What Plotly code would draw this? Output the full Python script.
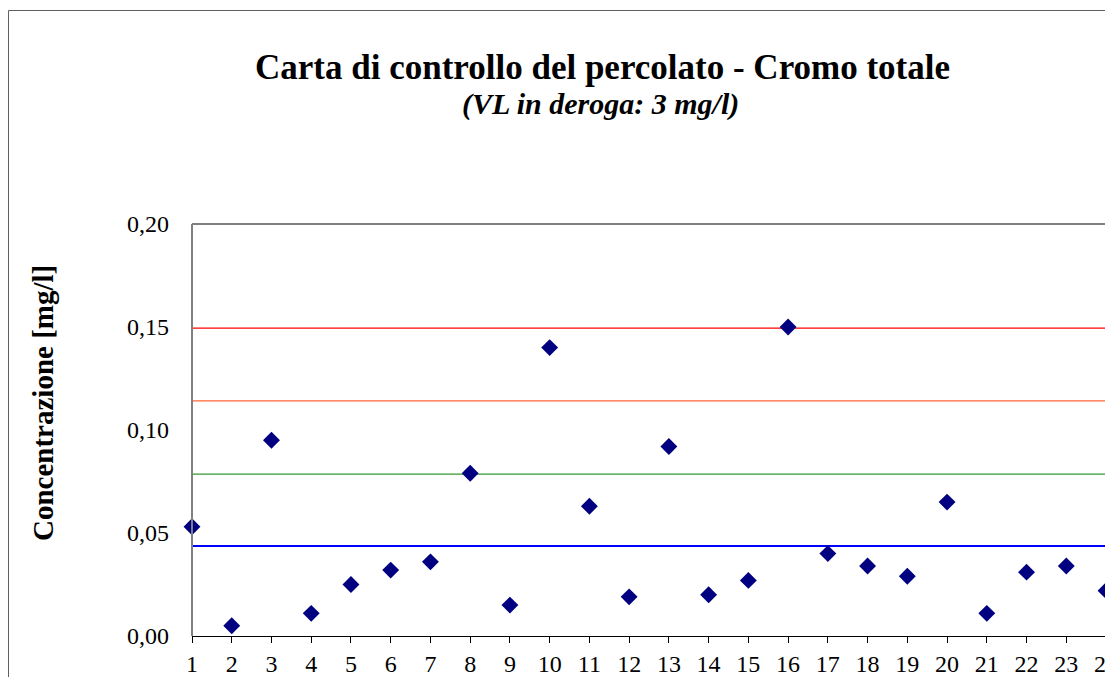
import plotly.graph_objects as go

# campioni e concentrazioni di cromo totale [mg/l]
campioni = list(range(1, 25))
cromo = [0.053, 0.005, 0.095, 0.011, 0.025, 0.032, 0.036, 0.079, 0.015, 0.140,
         0.063, 0.019, 0.092, 0.020, 0.027, 0.150, 0.040, 0.034, 0.029, 0.065,
         0.011, 0.031, 0.034, 0.022]

# linee di controllo
media = 0.0437
lim_1s = 0.0786
lim_2s = 0.1141
lim_3s = 0.1495

# area del tracciato in pixel della figura
L, T, B = 184, 216, 628
W = 1113 - L
H = B - T


def px(x):
    return (x - L) / W


def py(y):
    return (B - y) / H


fig = go.Figure()

for val, col, w in [(lim_3s, "#FF0000", 1.2), (lim_2s, "#FF6633", 1.2),
                    (lim_1s, "#339933", 1.2), (media, "#0000FF", 2)]:
    fig.add_trace(go.Scatter(x=[1, 26], y=[val, val], mode="lines",
                             line=dict(color=col, width=w), hoverinfo="skip"))

fig.add_trace(go.Scatter(x=campioni, y=cromo, mode="markers", cliponaxis=False,
                         marker=dict(symbol="diamond", size=13, color="#000080")))

fig.update_layout(
    width=1113, height=677,
    margin=dict(l=L, r=0, t=T, b=677 - B),
    paper_bgcolor="white", plot_bgcolor="white",
    showlegend=False,
    separators=",.",
    font=dict(family="Liberation Serif", color="black"),
    xaxis=dict(range=[1, 1 + W / 39.74], tickmode="linear", tick0=1, dtick=1,
               showgrid=False, zeroline=False, showline=True, linecolor="black",
               linewidth=1, ticks="outside", ticklen=6, tickcolor="black",
               tickfont=dict(size=24)),
    yaxis=dict(range=[0, 0.2], tickmode="linear", tick0=0, dtick=0.05,
               tickformat=".2f", showgrid=False, zeroline=False, showline=False,
               ticks="", ticklabelstandoff=22, tickfont=dict(size=24)),
    shapes=[
        # cornice del grafico
        dict(type="rect", xref="paper", yref="paper", x0=px(0.5), x1=1.5,
             y0=-1, y1=py(2.5), line=dict(color="#606060", width=1), layer="below"),
        # bordo area del tracciato
        dict(type="line", xref="paper", yref="paper", x0=0, x1=1.2, y0=1, y1=1,
             line=dict(color="#808080", width=2)),
        dict(type="line", xref="paper", yref="paper", x0=0, x1=0, y0=0, y1=1,
             line=dict(color="#808080", width=2)),
    ],
    annotations=[
        dict(text="<b>Carta di controllo del percolato - Cromo totale</b>",
             xref="paper", yref="paper", x=px(594), y=py(60),
             xanchor="center", yanchor="middle", showarrow=False,
             font=dict(size=35)),
        dict(text="<b><i>(VL in deroga: 3 mg/l)</i></b>",
             xref="paper", yref="paper", x=px(592), y=py(96),
             xanchor="center", yanchor="middle", showarrow=False,
             font=dict(size=30)),
        dict(text="<b>Concentrazione [mg/l]</b>", textangle=-90,
             xref="paper", yref="paper", x=px(35), y=py(395),
             xanchor="center", yanchor="middle", showarrow=False,
             font=dict(size=29)),
    ],
)

fig.write_html("out.html")
